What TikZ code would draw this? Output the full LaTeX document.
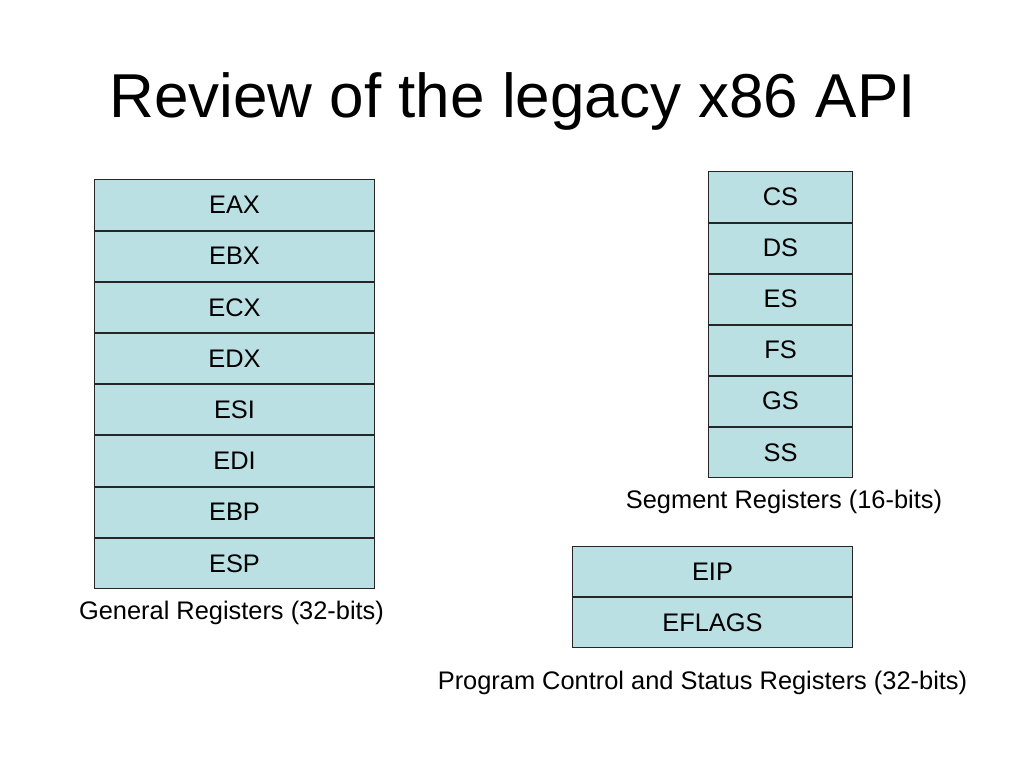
\documentclass[tikz,border=0pt]{standalone}
\usepackage{fontspec}
\setmainfont{Liberation Sans}
\usetikzlibrary{positioning}
\definecolor{regfill}{RGB}{187,224,227}

\begin{document}
\begin{tikzpicture}[x=1pt,y=-1pt]
\tikzset{every node/.style={inner sep=0pt,font=\fontsize{25.4}{30}\selectfont}}
\tikzset{gpreg/.style={draw=black!85,line width=1pt,fill=regfill,minimum width=280pt,minimum height=50.2pt}}
\tikzset{segreg/.style={gpreg,minimum width=144pt,minimum height=50.05pt}}
\tikzset{ctlreg/.style={gpreg,minimum height=49.85pt}}
\tikzset{caption/.style={anchor=base}}
\useasboundingbox (0,0) rectangle (1024,768);
%\fill[white] (0,0) rectangle (1024,768);
\node[anchor=base,font=\fontsize{62}{70}\selectfont] (title) at (512.5,117) {Review of the legacy x86 API};
% general registers
\node[gpreg] (eax) at (234.5,205) {EAX};
\node[gpreg,below=0pt of eax] (ebx) {EBX};
\node[gpreg,below=0pt of ebx] (ecx) {ECX};
\node[gpreg,below=0pt of ecx] (edx) {EDX};
\node[gpreg,below=0pt of edx] (esi) {ESI};
\node[gpreg,below=0pt of esi] (edi) {EDI};
\node[gpreg,below=0pt of edi] (ebp) {EBP};
\node[gpreg,below=0pt of ebp] (esp) {ESP};
\node[caption] (gplabel) at (231.5,619) {General Registers (32-bits)};
% segment registers
\node[segreg] (cs) at (780.5,197) {CS};
\node[segreg,below=0pt of cs] (ds) {DS};
\node[segreg,below=0pt of ds] (es) {ES};
\node[segreg,below=0pt of es] (fs) {FS};
\node[segreg,below=0pt of fs] (gs) {GS};
\node[segreg,below=0pt of gs] (ss) {SS};
\node[caption] (seglabel) at (784,508) {Segment Registers (16-bits)};
% program control and status
\node[ctlreg] (eip) at (712.5,571.5) {EIP};
\node[ctlreg,below=0pt of eip] (eflags) {EFLAGS};
\node[caption] (ctllabel) at (702.5,689) {Program Control and Status Registers (32-bits)};
\end{tikzpicture}
\end{document}
